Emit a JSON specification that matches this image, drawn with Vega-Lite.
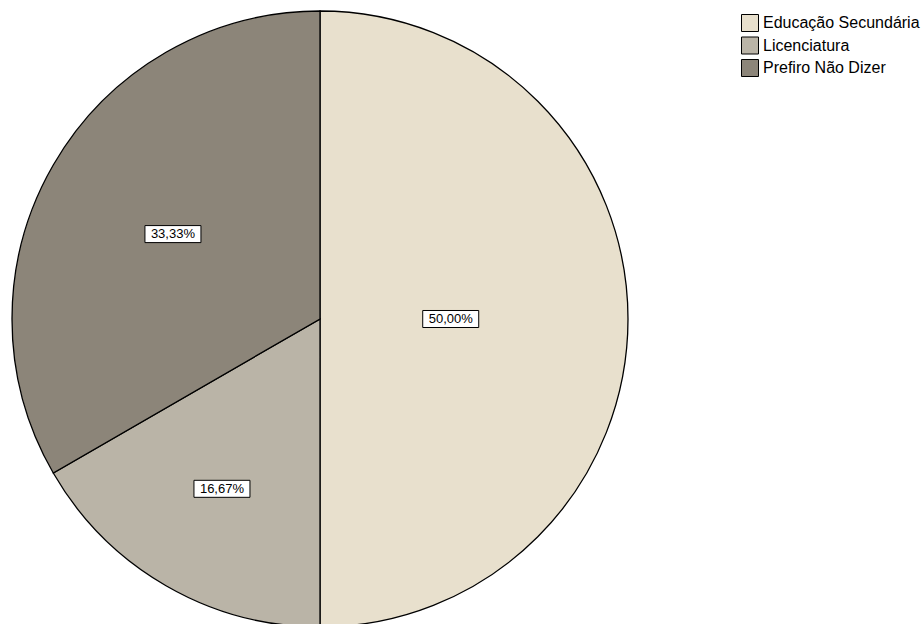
{
  "$schema": "https://vega.github.io/schema/vega-lite/v6.json",
  "width": 616,
  "height": 616,
  "padding": {"left": 9, "top": 8, "right": 0, "bottom": 0},
  "background": "white",
  "config": {"view": {"stroke": null}},
  "data": {
    "values": [
      {"categoria": "Educação Secundária", "n": 3, "rotulo": "50,00%"},
      {"categoria": "Licenciatura", "n": 1, "rotulo": "16,67%"},
      {"categoria": "Prefiro Não Dizer", "n": 2, "rotulo": "33,33%"}
    ]
  },
  "layer": [
    {
      "mark": {"type": "arc", "outerRadius": 308, "stroke": "black", "strokeWidth": 1.3},
      "encoding": {
        "theta": {"field": "n", "type": "quantitative", "stack": true},
        "color": {
          "field": "categoria",
          "type": "nominal",
          "scale": {
            "domain": ["Educação Secundária", "Licenciatura", "Prefiro Não Dizer"],
            "range": ["#e8e0cd", "#bab4a7", "#8c8579"]
          },
          "legend": {
            "title": null,
            "orient": "right",
            "offset": 110,
            "symbolType": "square",
            "symbolSize": 289,
            "symbolStrokeColor": "black",
            "symbolStrokeWidth": 1,
            "symbolOpacity": 1,
            "labelFont": "Liberation Sans",
            "labelFontSize": 16,
            "labelColor": "black",
            "labelOffset": 4,
            "rowPadding": 0.5,
            "padding": 3
          }
        },
        "order": {"field": "categoria"}
      }
    },
    {
      "transform": [
        {"window": [{"op": "sum", "field": "n", "as": "cum"}], "sort": [{"field": "categoria"}], "frame": [null, 0]},
        {"joinaggregate": [{"op": "sum", "field": "n", "as": "total"}]},
        {"calculate": "2*PI*datum.n/datum.total", "as": "alpha"},
        {"calculate": "2*PI*(datum.cum - datum.n/2)/datum.total", "as": "mid"},
        {"calculate": "(2/3)*sin(datum.alpha/2)/(datum.alpha/2)", "as": "d"},
        {"calculate": "datum.d*sin(datum.mid)", "as": "lx"},
        {"calculate": "datum.d*cos(datum.mid)", "as": "ly"}
      ],
      "layer": [
        {
          "mark": {"type": "point", "shape": "M-1,-0.304H1V0.304H-1Z", "size": 3136, "filled": true, "fill": "white", "stroke": "black", "strokeWidth": 1, "opacity": 1},
          "encoding": {
            "x": {"field": "lx", "type": "quantitative", "scale": {"domain": [-1, 1]}, "axis": null},
            "y": {"field": "ly", "type": "quantitative", "scale": {"domain": [-1, 1]}, "axis": null}
          }
        },
        {
          "mark": {"type": "text", "font": "Liberation Sans", "fontSize": 13, "color": "black", "baseline": "middle", "align": "center"},
          "encoding": {
            "x": {"field": "lx", "type": "quantitative", "scale": {"domain": [-1, 1]}, "axis": null},
            "y": {"field": "ly", "type": "quantitative", "scale": {"domain": [-1, 1]}, "axis": null},
            "text": {"field": "rotulo"}
          }
        }
      ]
    }
  ]
}
